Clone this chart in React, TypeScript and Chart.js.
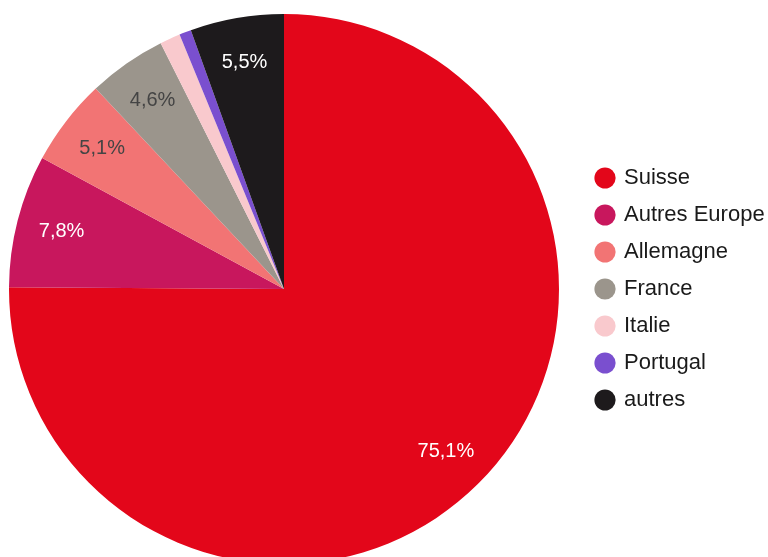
import React, { useEffect, useRef } from "react";
import { Chart, registerables } from "chart.js";

Chart.register(...registerables);

const categories = ["Suisse", "Autres Europe", "Allemagne", "France", "Italie", "Portugal", "autres"];
const values = [75.1, 7.8, 5.1, 4.6, 1.2, 0.7, 5.5];
const valueLabels = ["75,1%", "7,8%", "5,1%", "4,6%", "", "", "5,5%"];
const colors = ["#e3061a", "#c8175d", "#f27474", "#9b958c", "#f9c9cd", "#7a4fcf", "#1d1a1c"];
const labelColors = ["#ffffff", "#ffffff", "#444444", "#444444", "#444444", "#444444", "#ffffff"];

const sliceLabelPlugin = {
  id: "sliceLabels",
  afterDatasetsDraw(chart: any) {
    const ctx = chart.ctx;
    const meta = chart.getDatasetMeta(0);
    ctx.save();
    ctx.font = "20px 'Liberation Sans', Arial, sans-serif";
    ctx.textAlign = "center";
    ctx.textBaseline = "middle";
    meta.data.forEach((arc: any, i: number) => {
      const text = valueLabels[i];
      if (!text) return;
      const { x, y, startAngle, endAngle, outerRadius } = arc.getProps(
        ["x", "y", "startAngle", "endAngle", "outerRadius"],
        true
      );
      const mid = (startAngle + endAngle) / 2;
      const r = outerRadius * 0.835;
      ctx.fillStyle = labelColors[i];
      ctx.fillText(text, x + Math.cos(mid) * r, y + Math.sin(mid) * r);
    });
    ctx.restore();
  },
};

export default function App() {
  const canvasRef = useRef<HTMLCanvasElement | null>(null);

  useEffect(() => {
    const canvas = canvasRef.current;
    if (!canvas) return;
    const chart = new Chart(canvas, {
      type: "pie",
      data: {
        labels: categories,
        datasets: [
          {
            data: values,
            backgroundColor: colors,
            borderWidth: 0,
          },
        ],
      },
      options: {
        responsive: false,
        animation: false,
        devicePixelRatio: 1,
        layout: { padding: { left: 0, top: 14, bottom: 14, right: 0 } },
        plugins: {
          tooltip: { enabled: false },
          legend: {
            position: "right",
            align: "center",
            maxWidth: 186,
            labels: {
              usePointStyle: true,
              pointStyle: "circle",
              boxWidth: 16,
              boxHeight: 15,
              padding: 15,
              color: "#1a1a1a",
              font: { size: 22, family: "'Liberation Sans', Arial, sans-serif" },
            },
          },
        },
      } as any,
      plugins: [sliceLabelPlugin],
    });
    return () => chart.destroy();
  }, []);

  return (
    <div
      style={{
        position: "absolute",
        left: 0,
        top: 0,
        width: 768,
        height: 557,
        overflow: "hidden",
        background: "#ffffff",
      }}
    >
      <canvas
        ref={canvasRef}
        width={782}
        height={578}
        style={{ position: "absolute", left: -14, top: 0, width: 782, height: 578 }}
      />
    </div>
  );
}
